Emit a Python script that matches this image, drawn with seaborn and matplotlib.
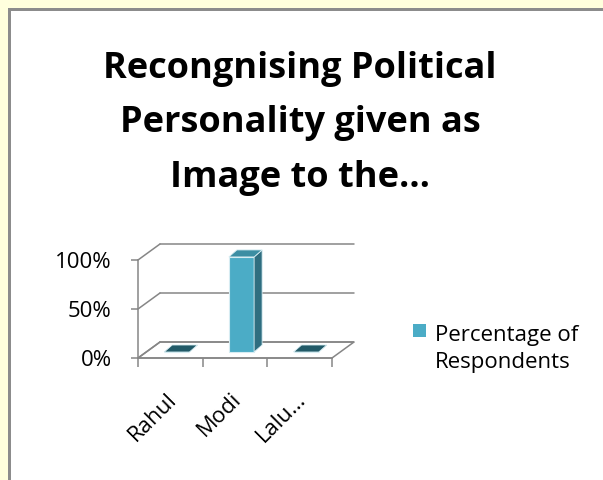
import matplotlib
matplotlib.use("Agg")
import matplotlib.pyplot as plt
import seaborn as sns
import pandas as pd
from matplotlib.patches import Polygon, Rectangle
from matplotlib.transforms import ScaledTranslation

# ---- data ----
candidates = ["Rahul", "Modi", "Lalu…"]
percentages = [0.0, 0.97, 0.0]
series_name = "Percentage of\nRespondents"
title_lines = ["Recongnising Political", "Personality given as", "Image to the…"]
y_ticks = [0.0, 0.5, 1.0]
y_tick_labels = ["0%", "50%", "100%"]

sns.set_theme(style="white")
plt.rcParams["font.family"] = ["Open Sans", "DejaVu Sans"]

W, H, DPI = 603, 480, 100
fig = plt.figure(figsize=(W / DPI, H / DPI), dpi=DPI, facecolor="white")

# page background / frame
YEL = "#FFFFDD"
BORDER = "#8C8C8C"
fig.patches.append(Rectangle((0, 1 - 8 / H), 1, 8 / H, transform=fig.transFigure,
                             facecolor=YEL, edgecolor="none", zorder=0))
fig.patches.append(Rectangle((0, 0), 8 / W, 1, transform=fig.transFigure,
                             facecolor=YEL, edgecolor="none", zorder=0))
fig.patches.append(Rectangle((8 / W, 0), 3 / W, 1 - 8 / H, transform=fig.transFigure,
                             facecolor=BORDER, edgecolor="none", zorder=1))
fig.patches.append(Rectangle((8 / W, 1 - 11 / H), 1 - 8 / W, 3 / H, transform=fig.transFigure,
                             facecolor=BORDER, edgecolor="none", zorder=1))

# axes (front plane)
AX_L, AX_B, AX_W, AX_H = 138, H - 358, 194, 98
ax = fig.add_axes([AX_L / W, AX_B / H, AX_W / W, AX_H / H])
ax.set_facecolor("none")

FRONT = "#4BACC6"
SIDE = "#2F6E80"
TOP = "#3C8EA3"
TOP_FLAT = "#215A68"
GRID = "#868686"
EDGE = "#D6ECF2"

df = pd.DataFrame({"Candidate": candidates, "Share": percentages})
sns.barplot(data=df, x="Candidate", y="Share", color=FRONT, saturation=1,
            width=0.39, edgecolor=EDGE, linewidth=0.8, ax=ax, zorder=4)
ax.set_xlim(-0.5, len(candidates) - 0.5)
ax.set_ylim(0, 1)

XU = AX_W / len(candidates)  # px per category
YU = AX_H                    # px per unit of y
BX, BY = 22 / XU, 16 / YU    # back wall depth
SX, SY = 6.5 / XU, 6 / YU    # bar front depth
DX, DY = 8 / XU, 7 / YU      # bar depth

x0, x1 = -0.5, len(candidates) - 0.5
# floor
ax.add_patch(Polygon([(x0, 0), (x1, 0), (x1 + BX, BY), (x0 + BX, BY)], closed=True,
                     facecolor="white", edgecolor=GRID, lw=1.1, zorder=1, clip_on=False))
# wall gridlines
for v in y_ticks:
    ax.plot([x0, x0 + BX], [v, v + BY], color=GRID, lw=1.1, zorder=2, clip_on=False)
    ax.plot([x0 + BX, x1 + BX], [v + BY, v + BY], color=GRID, lw=1.1, zorder=2, clip_on=False)

# 3D bars
for p in list(ax.patches):
    if not isinstance(p, Rectangle) or p.get_facecolor()[3] == 0:
        continue
    bx = p.get_x() + SX
    bw = p.get_width()
    bh = p.get_height()
    p.set_x(bx)
    p.set_y(SY)
    p.set_clip_on(False)
    yb = SY
    yt = SY + bh
    ax.add_patch(Polygon([(bx + bw, yb), (bx + bw + DX, yb + DY), (bx + bw + DX, yt + DY),
                          (bx + bw, yt)], closed=True, facecolor=SIDE, edgecolor=EDGE,
                         lw=0.6, zorder=5, clip_on=False))
    ax.add_patch(Polygon([(bx, yt), (bx + bw, yt), (bx + bw + DX, yt + DY), (bx + DX, yt + DY)],
                         closed=True, facecolor=TOP if bh > 0 else TOP_FLAT,
                         edgecolor=EDGE, lw=0.6, zorder=5, clip_on=False))

# axes styling
sns.despine(ax=ax, top=True, right=True, left=False, bottom=False)
for s in ("left", "bottom"):
    ax.spines[s].set_color(GRID)
    ax.spines[s].set_linewidth(1.1)
ax.set_yticks(y_ticks)
ax.set_yticklabels(y_tick_labels)
ax.tick_params(axis="y", left=True, length=5, width=1.1, color=GRID, pad=14,
               labelsize=16, labelcolor="black")
ax.set_xticks(range(len(candidates)))
ax.set_xticklabels(candidates)
ax.set_xticks([i - 0.5 for i in range(len(candidates) + 1)], minor=True)
ax.tick_params(axis="x", which="major", bottom=False, length=0, labelsize=16,
               labelcolor="black", pad=0)
ax.tick_params(axis="x", which="minor", bottom=True, length=6.5, width=1.1, color=GRID)
ax.set_xlabel("")
ax.set_ylabel("")
for lab in ax.get_xticklabels():
    lab.set_rotation(45)
    lab.set_ha("right")
    lab.set_va("center")
    lab.set_rotation_mode("anchor")
    lab.set_transform(lab.get_transform() + ScaledTranslation(3 / DPI, -38 / DPI, fig.dpi_scale_trans))

# title
fig.text(300 / W, 1 - 187 / H, "\n".join(title_lines), ha="center", va="baseline",
         multialignment="center", fontsize=26, fontweight="bold", color="black",
         linespacing=1.69)

# legend
fig.patches.append(Rectangle((413 / W, 1 - 337 / H), 13 / W, 13 / H, transform=fig.transFigure,
                             facecolor=FRONT, edgecolor="none", zorder=3))
fig.text(435 / W, 1 - 368 / H, series_name, ha="left", va="baseline", fontsize=16,
         linespacing=1.4, color="black")

fig.savefig("out.png", dpi=DPI)
